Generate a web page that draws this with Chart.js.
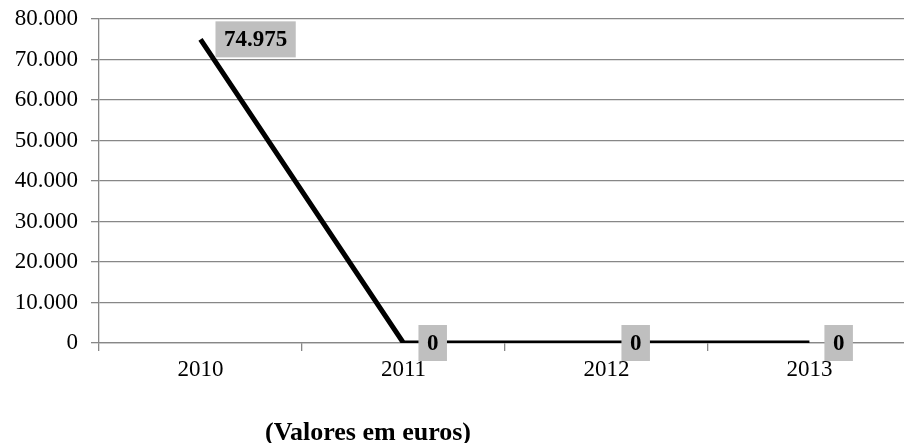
<!DOCTYPE html>
<html>
<head>
<meta charset="utf-8">
<script src="https://cdn.jsdelivr.net/npm/chart.js@4/dist/chart.umd.min.js"></script>
<style>
  html, body { margin: 0; padding: 0; background: #ffffff; }
  #wrap { position: relative; width: 904px; height: 443px; }
</style>
</head>
<body>
<div id="wrap"><canvas id="chart"></canvas></div>
<script>
// Annual amounts (euros)
const years = ['2010', '2011', '2012', '2013'];
const amounts = [74975, 0, 0, 0];
const yTicks = [0, 10000, 20000, 30000, 40000, 50000, 60000, 70000, 80000];
const caption = '(Valores em euros)';

const SERIF = '"Liberation Serif", "Times New Roman", serif';
const GRID = '#878787';

// Portuguese-style thousands separator: 74975 -> "74.975"
function fmt(v) {
  return String(Math.round(v)).replace(/\B(?=(\d{3})+(?!\d))/g, '.');
}

// Category boundaries on the numeric x axis (tick marks sit between years)
const boundaries = years.map((_, i) => i - 0.5);

// Grey boxed value labels placed to the right of each point
const valueLabels = {
  id: 'valueLabels',
  afterDatasetsDraw(chart) {
    const ctx = chart.ctx;
    const meta = chart.getDatasetMeta(0);
    const data = chart.data.datasets[0].data;
    ctx.save();
    ctx.font = 'bold 23px ' + SERIF;
    ctx.textAlign = 'center';
    ctx.textBaseline = 'middle';
    meta.data.forEach((pt, i) => {
      const txt = fmt(data[i].y);
      const w = ctx.measureText(txt).width + 17;
      const h = 36;
      const left = pt.x + 15;
      ctx.fillStyle = '#bfbfbf';
      ctx.fillRect(left, pt.y - h / 2, w, h);
      ctx.fillStyle = '#000000';
      ctx.fillText(txt, left + w / 2, pt.y + 1);
    });
    ctx.restore();
  }
};

// Caption under the axis
const captionPlugin = {
  id: 'caption',
  afterDraw(chart) {
    const ctx = chart.ctx;
    ctx.save();
    ctx.font = 'bold 26px ' + SERIF;
    ctx.fillStyle = '#000000';
    ctx.textAlign = 'center';
    ctx.textBaseline = 'alphabetic';
    ctx.fillText(caption, 368, 440);
    ctx.restore();
  }
};

new Chart(document.getElementById('chart'), {
  type: 'line',
  data: {
    datasets: [{
      data: amounts.map((v, i) => ({ x: i, y: v })),
      borderColor: '#000000',
      borderWidth: 5,
      borderCapStyle: 'butt',
      borderJoinStyle: 'miter',
      pointRadius: 0,
      pointHoverRadius: 0,
      tension: 0,
      fill: false
    }]
  },
  options: {
    responsive: true,
    maintainAspectRatio: false,
    animation: false,
    devicePixelRatio: 1,
    layout: { padding: { top: 19, right: 0, bottom: 0, left: 0 } },
    plugins: {
      legend: { display: false },
      tooltip: { enabled: false },
      title: { display: false }
    },
    scales: {
      x: {
        type: 'linear',
        min: -0.5,
        max: 3.466,
        afterBuildTicks(scale) {
          scale.ticks = boundaries.map(v => ({ value: v }));
        },
        afterFit(scale) {
          scale.height = 100;
          scale.paddingLeft = 0;
          scale.paddingRight = 0;
        },
        grid: {
          drawOnChartArea: false,
          drawTicks: true,
          tickLength: 8,
          color: GRID,
          lineWidth: 1.3
        },
        border: { display: true, color: GRID, width: 1.3 },
        ticks: {
          autoSkip: false,
          maxRotation: 0,
          minRotation: 0,
          padding: 5,
          labelOffset: 101.5,
          color: '#000000',
          font: { family: SERIF, size: 23 },
          callback: (v) => years[Math.round(v + 0.5)]
        }
      },
      y: {
        min: 0,
        max: 80000,
        afterBuildTicks(scale) {
          scale.ticks = yTicks.map(v => ({ value: v }));
        },
        afterFit(scale) {
          scale.width = 99;
          scale.paddingTop = 0;
          scale.paddingBottom = 0;
        },
        grid: {
          drawTicks: true,
          tickLength: 8,
          color: GRID,
          lineWidth: 1.3
        },
        border: { display: true, color: GRID, width: 1.3 },
        ticks: {
          padding: 13,
          color: '#000000',
          font: { family: SERIF, size: 23 },
          callback: (v) => fmt(v)
        }
      }
    }
  },
  plugins: [valueLabels, captionPlugin]
});
</script>
</body>
</html>
